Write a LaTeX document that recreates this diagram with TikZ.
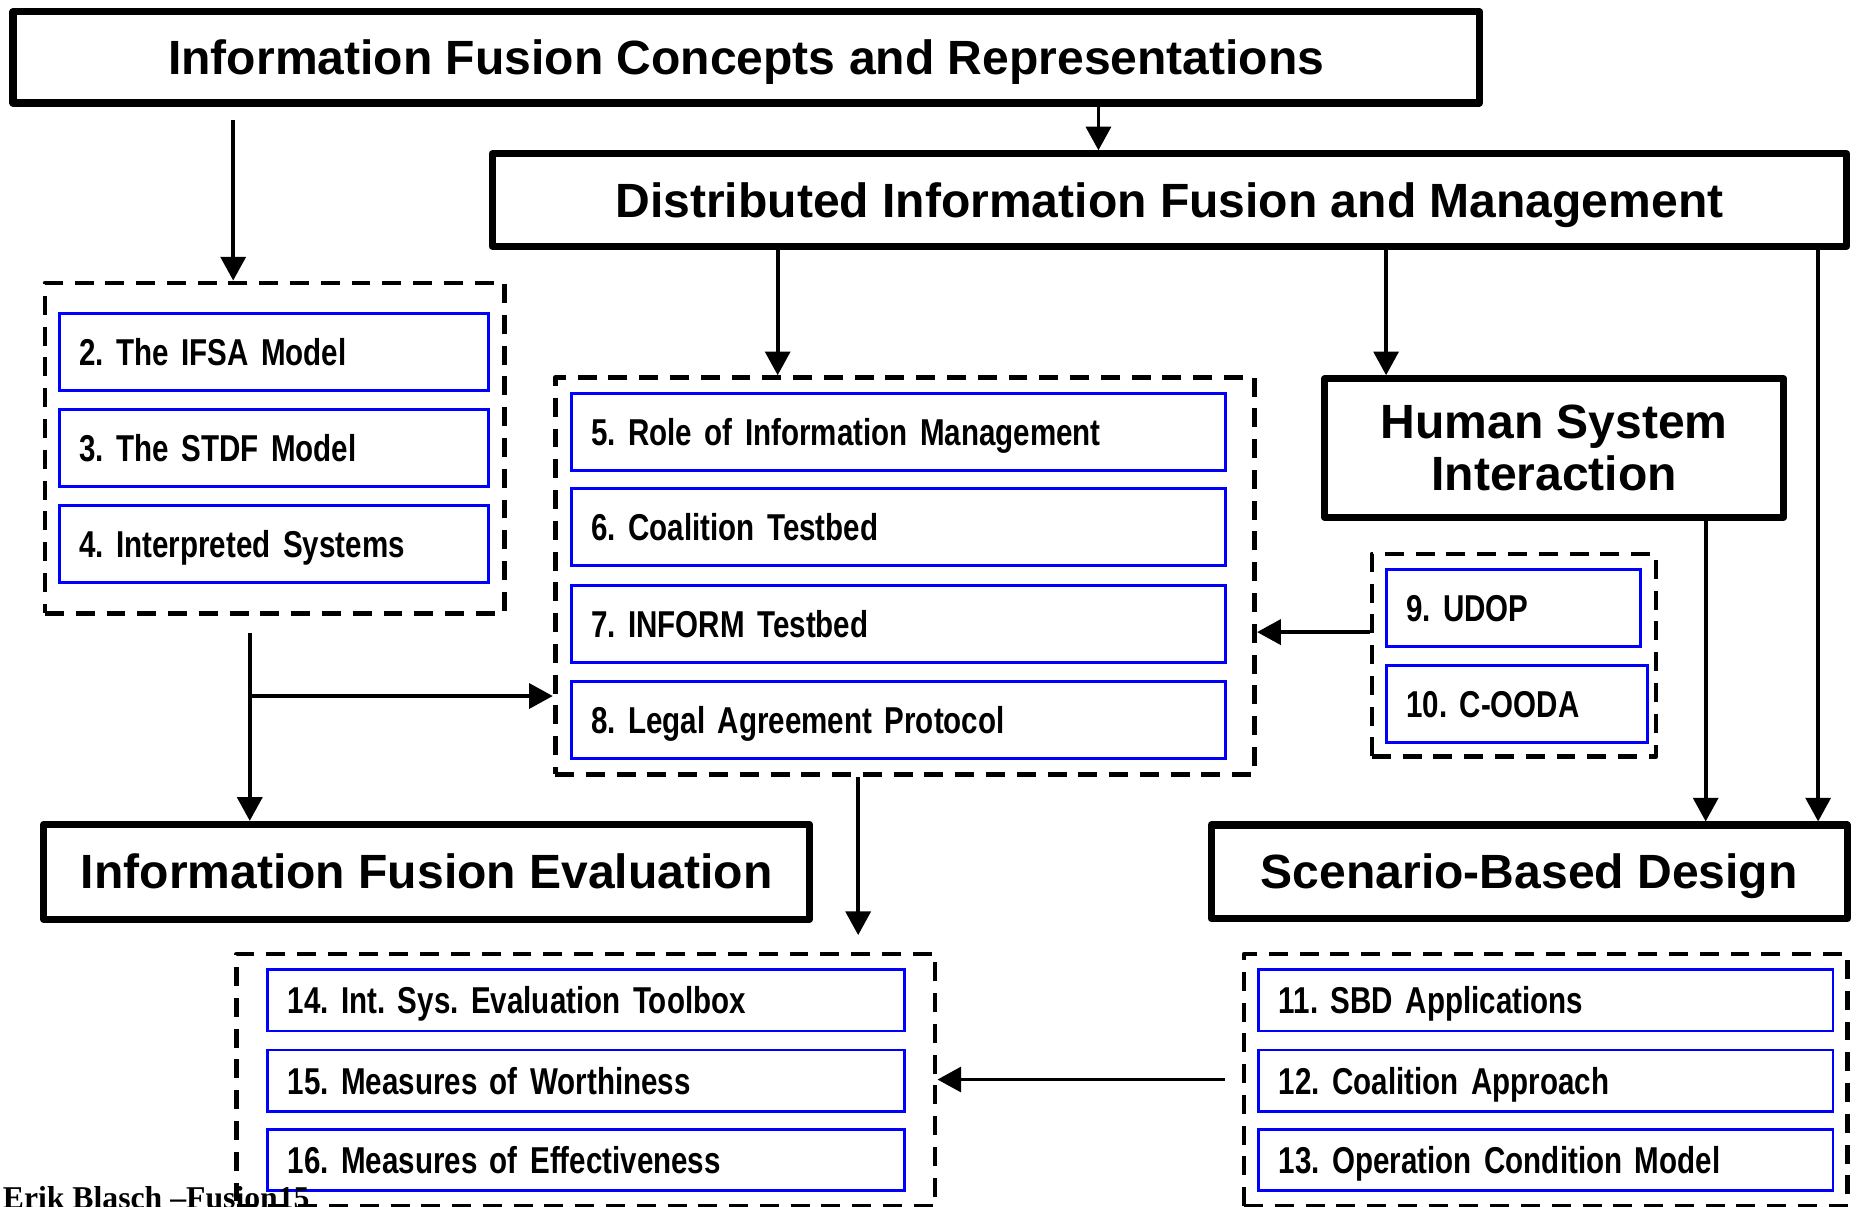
\documentclass[tikz,border=0pt]{standalone}
\usepackage{fontspec}
\setmainfont{Liberation Sans}
\newfontfamily\headfont{Liberation Sans}
\newfontfamily\narrowfont[FakeStretch=0.79, WordSpace=0.7]{Liberation Sans}
\newfontfamily\footfont{Liberation Serif}
\usetikzlibrary{arrows.meta}
\frenchspacing

\tikzset{
  headbase/.style={draw, line width=3pt, line join=round, inner sep=0pt, align=center,
    font=\headfont\bfseries\fontsize{20.3}{22}\selectfont},
  head/.style={headbase, text height=14.5pt, text depth=0pt},
  item/.style={draw=blue, line width=1.2pt, inner xsep=8.5pt, inner ysep=0pt, align=left,
    text height=11.3pt, text depth=0pt,
    font=\narrowfont\bfseries\frenchspacing\fontsize{15.8}{18}\selectfont},
  grp/.style={draw, line width=2pt, dash pattern=on 8pt off 5pt, line join=round, inner sep=0pt},
  arr/.style={line width=1.6pt, -{Triangle[length=10pt,width=10.5pt]}},
  footer/.style={font=\footfont\bfseries\fontsize{13.4}{15}\selectfont, inner sep=0pt},
}

\begin{document}
\begin{tikzpicture}[x=0.5pt, y=-0.5pt]
  \useasboundingbox (0,0) rectangle (1568,1019);
  \fill[white] (0,0) rectangle (1568,1019);
  \clip (0,0) rectangle (1568,1019);

  % dashed groups
  \node[grp, minimum width=194pt, minimum height=139.5pt] (G1) at (232,378.5) {};
  \node[grp, minimum width=295.5pt, minimum height=167.5pt] (G2) at (764.5,486.5) {};
  \node[grp, minimum width=120pt, minimum height=85.5pt] (G3) at (1279,553.5) {};
  \node[grp, minimum width=295pt, minimum height=106.5pt] (G4) at (495,912.5) {};
  \node[grp, minimum width=255pt, minimum height=106.5pt] (G5) at (1306,912.5) {};

  % main topic boxes
  \node[head, minimum width=619.5pt, minimum height=38.5pt] (T1) at (630.5,48.5)
    {Information Fusion Concepts and Representations};
  \node[head, minimum width=572pt, minimum height=39pt] (T2) at (988,169)
    {Distributed Information Fusion and Management};
  \node[headbase, minimum width=194pt, minimum height=58.5pt] (HSI) at (1313,378.5)
    {Human System\\Interaction};
  \node[head, minimum width=323.5pt, minimum height=40pt] (IFE) at (360.5,736.5)
    {Information Fusion Evaluation};
  \node[head, minimum width=268.75pt, minimum height=39.5pt] (SBD) at (1292,736.5)
    {Scenario-Based Design};

  % chapters
  \node[item, text width=164.5pt, minimum height=32.5pt] (c2) at (231.5,297.5) {2. The IFSA Model};
  \node[item, text width=164.5pt, minimum height=32.5pt] (c3) at (231.5,378.5) {3. The STDF Model};
  \node[item, text width=164.5pt, minimum height=32.5pt] (c4) at (231.5,459.5) {4. Interpreted Systems};

  \node[item, text width=259.25pt, minimum height=32.5pt] (c5) at (758.75,365) {5. Role of Information Management};
  \node[item, text width=259.25pt, minimum height=32.5pt] (c6) at (758.75,445.5) {6. Coalition Testbed};
  \node[item, text width=259.25pt, minimum height=32.5pt] (c7) at (758.75,527) {7. INFORM Testbed};
  \node[item, text width=259.25pt, minimum height=32.5pt] (c8) at (758.75,608) {8. Legal Agreement Protocol};

  \node[item, text width=90.5pt, minimum height=32.5pt] (c9) at (1278.5,513.5) {9. UDOP};
  \node[item, text width=93.5pt, minimum height=32.5pt] (c10) at (1281.5,595) {10. C-OODA};

  \node[item, text width=225.5pt, minimum height=26pt] (c11) at (1306,845) {11. SBD Applications};
  \node[item, text width=225.5pt, minimum height=26pt] (c12) at (1306,913) {12. Coalition Approach};
  \node[item, text width=225.5pt, minimum height=26pt] (c13) at (1306,980) {13. Operation Condition Model};

  \node[item, text width=252pt, minimum height=26pt] (c14) at (495,845) {14. Int. Sys. Evaluation Toolbox};
  \node[item, text width=252pt, minimum height=26pt] (c15) at (495,913) {15. Measures of Worthiness};
  \node[item, text width=252pt, minimum height=26pt] (c16) at (495,980) {16. Measures of Effectiveness};

  % connector positions
  \coordinate (s1) at (197,101);
  \coordinate (x2) at (928,0);
  \coordinate (x3) at (657,0);
  \coordinate (x4) at (1171,0);
  \coordinate (x5) at (1536,0);
  \coordinate (x6) at (1441,0);
  \coordinate (y1) at (0,534);
  \coordinate (s2) at (211,535);
  \coordinate (s3) at (211,588);
  \coordinate (x7) at (725,0);
  \coordinate (e1) at (725,790);
  \coordinate (s4) at (1035,912);

  % connectors
  \draw[arr] (s1) -- (s1 |- G1.north);
  \draw[arr] (x2 |- T1.south) -- (x2 |- T2.north);
  \draw[arr] (x3 |- T2.south) -- (x3 |- G2.north);
  \draw[arr] (x4 |- T2.south) -- (x4 |- HSI.north);
  \draw[arr] (x5 |- T2.south) -- (x5 |- SBD.north);
  \draw[arr] (x6 |- HSI.south) -- (x6 |- SBD.north);
  \draw[arr] (G3.west |- y1) -- (G2.east |- y1);
  \draw[arr] (s2) -- (s2 |- IFE.north);
  \draw[arr] (s3) -- (s3 -| G2.west);
  \draw[arr] (x7 |- G2.south) -- (e1);
  \draw[arr] (s4) -- (s4 -| G4.east);

  % footer
  \node[footer, anchor=base west] (foot) at (2,1021) {Erik Blasch –Fusion15};
\end{tikzpicture}
\end{document}
